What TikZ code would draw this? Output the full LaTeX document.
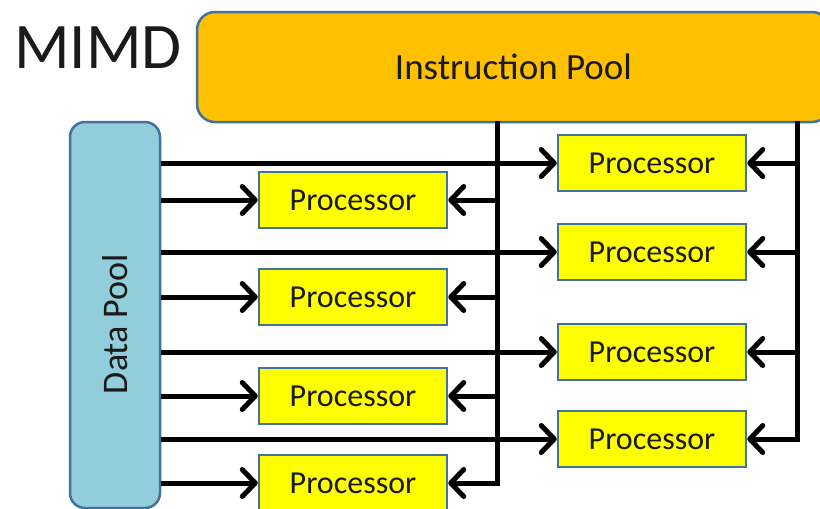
\documentclass[tikz,border=0pt]{standalone}
\usepackage{fontspec}
\setmainfont{Carlito}
\usetikzlibrary{arrows.meta}
\definecolor{ipfill}{HTML}{FFC000}
\definecolor{dpfill}{HTML}{92CDDC}
\definecolor{pfill}{HTML}{FFFF00}
\definecolor{edge}{HTML}{41719C}
\definecolor{ink}{HTML}{1A1A1A}
\tikzset{
  pool/.style={draw=edge, line width=2.5pt, rounded corners=18pt, text=ink},
  proc/.style={draw=edge, fill=pfill, line width=2.5pt, minimum width=188pt,
    minimum height=56pt, inner sep=0pt, text=ink, font=\fontsize{32}{32}\selectfont},
  wire/.style={line width=5pt},
  feed/.style={wire, -{Straight Barb[length=13pt,width=27pt,round]}},
}
\begin{document}
\begin{tikzpicture}[x=1pt,y=-1pt]
  \useasboundingbox (0,0) rectangle (820,509);
  \clip (0,0) rectangle (820,509);
  \fill[white] (0,0) rectangle (820,509);

  % title
  \node[anchor=base west, inner sep=0pt, text=ink, font=\fontsize{65}{65}\selectfont] (title) at (14,68) {MIMD};

  % pools
  \node[pool, fill=ipfill, minimum width=633pt, minimum height=110pt, inner sep=0pt,
        font=\fontsize{37}{37}\selectfont] (ip) at (513.5,67) {Instruction Pool};
  \node[pool, fill=dpfill, rounded corners=15pt, minimum width=90pt, minimum height=386pt,
        inner sep=0pt, font=\fontsize{36}{36}\selectfont] (dp) at (115,315)
        {\rotatebox{90}{Data Pool\hspace*{18pt}}};

  % processors, left column
  \node[proc] (L1) at (353,200) {Processor};
  \node[proc] (L2) at (353,297) {Processor};
  \node[proc] (L3) at (353,396) {Processor};
  \node[proc] (L4) at (353,483) {Processor};
  % processors, right column
  \node[proc] (R1) at (652,163) {Processor};
  \node[proc] (R2) at (652,252) {Processor};
  \node[proc] (R3) at (652,352) {Processor};
  \node[proc] (R4) at (652,439) {Processor};

  % instruction buses
  \coordinate (busL) at (497,122);
  \coordinate (busR) at (797,122);
  \draw[wire, line cap=rect] (ip.south -| busL) -- (busL |- L4.east) -- +(-2,0);
  \draw[wire, line cap=rect] (ip.south -| busR) -- (busR |- R4.east) -- +(-2,0);
  \foreach \p in {L1,L2,L3,L4}
    \draw[feed] (busL |- \p.east) -- (\p.east);
  \foreach \p in {R1,R2,R3,R4}
    \draw[feed] (busR |- \p.east) -- (\p.east);

  % data lines
  \foreach \p in {R1,L1,R2,L2,R3,L3,R4,L4}
    \draw[feed] (dp.east |- \p.west) -- (\p.west);
\end{tikzpicture}
\end{document}
